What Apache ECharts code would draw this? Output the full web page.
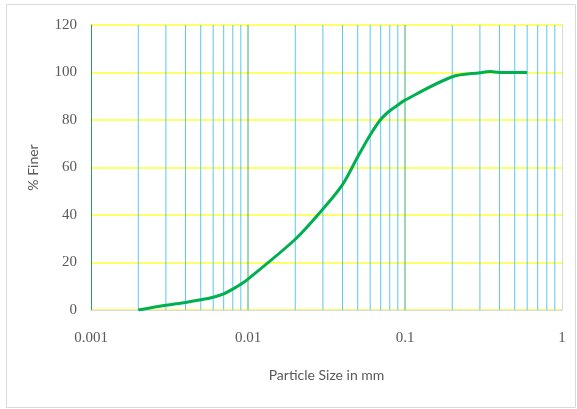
<!DOCTYPE html>
<html>
<head>
<meta charset="utf-8">
<script src="https://cdn.jsdelivr.net/npm/echarts@6/dist/echarts.min.js"></script>
<style>
html, body { margin: 0; padding: 0; background: #fff; }
#one { width: 577px; height: 409px; }
</style>
</head>
<body>
<div id="one"></div>
<script>
// particle size (mm) and percent finer
var sizes = [0.002, 0.003, 0.004, 0.005, 0.006, 0.007, 0.008, 0.009, 0.01, 0.02, 0.03, 0.04, 0.05, 0.06, 0.07, 0.08, 0.09, 0.1, 0.2, 0.3, 0.35, 0.4, 0.5, 0.6];
var finer = [0, 2.0, 3.2, 4.3, 5.4, 6.8, 8.8, 10.8, 13.0, 29.8, 42.5, 52.8, 64.5, 73.7, 80.2, 83.9, 86.3, 88.4, 98.2, 99.9, 100.4, 100, 100, 100];
// vertical grid lines: minor ones between decades, major ones at decades
var minorGrid = [0.002, 0.003, 0.004, 0.005, 0.006, 0.007, 0.008, 0.009,
                 0.02, 0.03, 0.04, 0.05, 0.06, 0.07, 0.08, 0.09,
                 0.2, 0.3, 0.4, 0.5, 0.6, 0.7, 0.8, 0.9];
var majorGrid = [0.01, 0.1];
var xTicks = ['0.001', '0.01', '0.1', '1'];

var mainContainer = document.getElementById('one');
var chart = echarts.init(mainContainer);

var curve = [];
for (var i = 0; i < sizes.length; i++) {
    curve.push([sizes[i], finer[i]]);
}

// one short line series per vertical grid line
var vLine = function (v, color) {
    return {
        type: 'line',
        data: [[v, 0], [v, 120]],
        z: 1,
        silent: true,
        showSymbol: false,
        symbol: 'none',
        lineStyle: { color: color, width: 1 }
    };
};

var series = [];
minorGrid.forEach(function (v) { series.push(vLine(v, '#5cc8ef')); });
majorGrid.forEach(function (v) { series.push(vLine(v, '#3fae6a')); });
series.push({
    type: 'line',
    data: curve,
    z: 3,
    smooth: 0.3,
    showSymbol: false,
    symbol: 'none',
    lineStyle: { color: '#00b050', width: 3 }
});

var option = {
    animation: false,
    graphic: [{
        type: 'rect',
        shape: { x: 6.5, y: 4.5, width: 569, height: 403 },
        style: { fill: 'none', stroke: '#d9d9d9', lineWidth: 1 },
        silent: true
    }],
    grid: { left: 91, right: 15, top: 25, bottom: 99 },
    xAxis: {
        type: 'log',
        logBase: 10,
        min: 0.001,
        max: 1,
        name: 'Particle Size in mm',
        nameLocation: 'middle',
        nameGap: 58,
        nameTextStyle: { color: '#595959', fontSize: 14, fontFamily: 'Lato' },
        axisLine: { show: true, lineStyle: { color: '#d9d9d9', width: 1 } },
        axisTick: { show: false },
        axisLabel: {
            color: '#595959',
            fontSize: 15,
            fontFamily: 'Liberation Serif',
            margin: 21,
            formatter: function (v) {
                var k = Math.round(Math.log(v) / Math.LN10) + 3;
                return xTicks[k] !== undefined ? xTicks[k] : '';
            }
        },
        splitLine: { show: false }
    },
    yAxis: [{
        type: 'value',
        min: 0,
        max: 120,
        interval: 20,
        name: '% Finer',
        nameLocation: 'middle',
        nameGap: 51,
        nameTextStyle: { color: '#595959', fontSize: 14, fontFamily: 'Lato' },
        axisLine: { show: true, lineStyle: { color: '#2ca05a', width: 1 } },
        axisTick: { show: false },
        axisLabel: { color: '#595959', fontSize: 15, fontFamily: 'Liberation Serif', margin: 14 },
        splitLine: { show: true, lineStyle: { color: '#ffff66', width: 2 } }
    }, {
        type: 'value',
        min: 0,
        max: 120,
        position: 'right',
        axisLine: { show: true, lineStyle: { color: '#d9d9d9', width: 1 } },
        axisTick: { show: false },
        axisLabel: { show: false },
        splitLine: { show: false }
    }],
    series: series
};
chart.setOption(option);
</script>
</body>
</html>
